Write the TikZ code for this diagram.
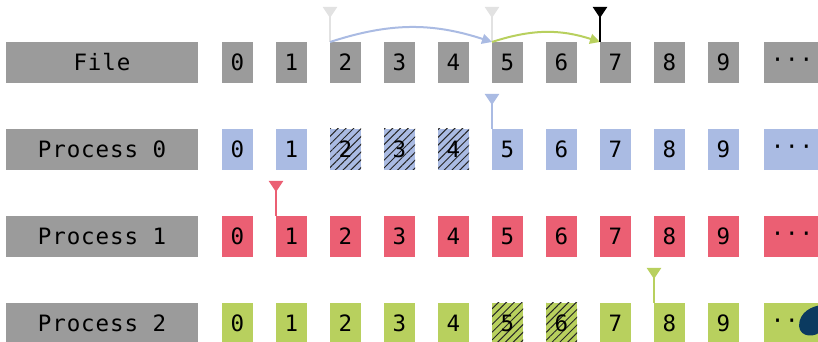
\documentclass[tikz,border=0pt]{standalone}
\usepackage{fontspec}
\newfontfamily\monofont[LetterSpace=4]{DejaVu Sans Mono}
\usepackage{xcolor}
\usepackage{tikz}
\usetikzlibrary{arrows.meta,positioning,patterns.meta}

\definecolor{filegray}{HTML}{9B9B9B}
\definecolor{procblue}{HTML}{AABBE3}
\definecolor{procred}{HTML}{EB5F73}
\definecolor{procgreen}{HTML}{B8D05E}
\definecolor{markgray}{HTML}{E2E2E2}
\definecolor{inkblue}{HTML}{0B3A60}

\begin{document}
\begin{tikzpicture}[x=1pt,y=1pt,
 rowlabel/.style={fill=filegray,minimum width=192pt,minimum height=41pt,
   inner sep=0pt,outer sep=0pt,text=black,
   font=\monofont\fontsize{22.5}{26}\selectfont},
 cell/.style={minimum width=31pt,minimum height=41pt,inner sep=0pt,
   outer sep=0pt,text=black,font=\monofont\fontsize{22.5}{26}\selectfont},
 fcell/.style={cell,fill=filegray},
 bcell/.style={cell,fill=procblue},
 rcell/.style={cell,fill=procred},
 gcell/.style={cell,fill=procgreen},
 more/.style={minimum width=56pt},
 hatched/.style={postaction={pattern={Lines[angle=45,distance=5.5pt,
   line width=1pt]},pattern color=black!85}},
 pointer/.style={{Triangle[reversed,length=11pt,width=14pt]}-,line width=2pt},
 seek/.style={-{Triangle[length=10pt,width=10pt]},line width=2pt,bend left=18}
]
\useasboundingbox (0,0) rectangle (818,342);

% file row
\node[rowlabel] (file) at (102,279.5) {File};
\node[fcell,right=24pt of file] (f0) {0};
\node[fcell,right=23pt of f0] (f1) {1};
\node[fcell,right=23pt of f1] (f2) {2};
\node[fcell,right=23pt of f2] (f3) {3};
\node[fcell,right=23pt of f3] (f4) {4};
\node[fcell,right=23pt of f4] (f5) {5};
\node[fcell,right=23pt of f5] (f6) {6};
\node[fcell,right=23pt of f6] (f7) {7};
\node[fcell,right=23pt of f7] (f8) {8};
\node[fcell,right=23pt of f8] (f9) {9};
\node[fcell,more,right=25pt of f9] (fmore) {···};

% process 0
\node[rowlabel,below=46pt of file] (proc0) {Process 0};
\node[bcell,right=24pt of proc0] (a0) {0};
\node[bcell,right=23pt of a0] (a1) {1};
\node[bcell,hatched,right=23pt of a1] (a2) {2};
\node[bcell,hatched,right=23pt of a2] (a3) {3};
\node[bcell,hatched,right=23pt of a3] (a4) {4};
\node[bcell,right=23pt of a4] (a5) {5};
\node[bcell,right=23pt of a5] (a6) {6};
\node[bcell,right=23pt of a6] (a7) {7};
\node[bcell,right=23pt of a7] (a8) {8};
\node[bcell,right=23pt of a8] (a9) {9};
\node[bcell,more,right=25pt of a9] (amore) {···};

% process 1
\node[rowlabel,below=46pt of proc0] (proc1) {Process 1};
\node[rcell,right=24pt of proc1] (b0) {0};
\node[rcell,right=23pt of b0] (b1) {1};
\node[rcell,right=23pt of b1] (b2) {2};
\node[rcell,right=23pt of b2] (b3) {3};
\node[rcell,right=23pt of b3] (b4) {4};
\node[rcell,right=23pt of b4] (b5) {5};
\node[rcell,right=23pt of b5] (b6) {6};
\node[rcell,right=23pt of b6] (b7) {7};
\node[rcell,right=23pt of b7] (b8) {8};
\node[rcell,right=23pt of b8] (b9) {9};
\node[rcell,more,right=25pt of b9] (bmore) {···};

% process 2
\node[rowlabel,below=46pt of proc1] (proc2) {Process 2};
\node[gcell,right=24pt of proc2] (c0) {0};
\node[gcell,right=23pt of c0] (c1) {1};
\node[gcell,right=23pt of c1] (c2) {2};
\node[gcell,right=23pt of c2] (c3) {3};
\node[gcell,right=23pt of c3] (c4) {4};
\node[gcell,hatched,right=23pt of c4] (c5) {5};
\node[gcell,hatched,right=23pt of c5] (c6) {6};
\node[gcell,right=23pt of c6] (c7) {7};
\node[gcell,right=23pt of c7] (c8) {8};
\node[gcell,right=23pt of c8] (c9) {9};
\node[gcell,more,right=25pt of c9] (cmore) {···};

% read pointers
\coordinate[above=35pt of f2.north west] (fstart);
\coordinate[above=35pt of f5.north west] (fmid);
\coordinate[above=35pt of f7.north west] (fend);
\coordinate[above=35pt of a5.north west] (aptr);
\coordinate[above=35pt of b1.north west] (bptr);
\coordinate[above=35pt of c8.north west] (cptr);

\draw[pointer,markgray] (fstart) -- (f2.north west);
\draw[pointer,markgray] (fmid) -- (f5.north west);
\draw[seek,procblue] (f2.north west) to (f5.north west);
\draw[seek,procgreen] (f5.north west) to (f7.north west);
\draw[pointer,black] (fend) -- (f7.north west);

\draw[pointer,procblue] (aptr) -- (a5.north west);
\draw[pointer,procred] (bptr) -- (b1.north west);
\draw[pointer,procgreen] (cptr) -- (c8.north west);

\fill[inkblue] (799,16) .. controls (799,30) and (812,36) .. (822,37)
  -- (822,12) .. controls (816,4) and (800,4) .. (799,16);
\end{tikzpicture}
\end{document}
